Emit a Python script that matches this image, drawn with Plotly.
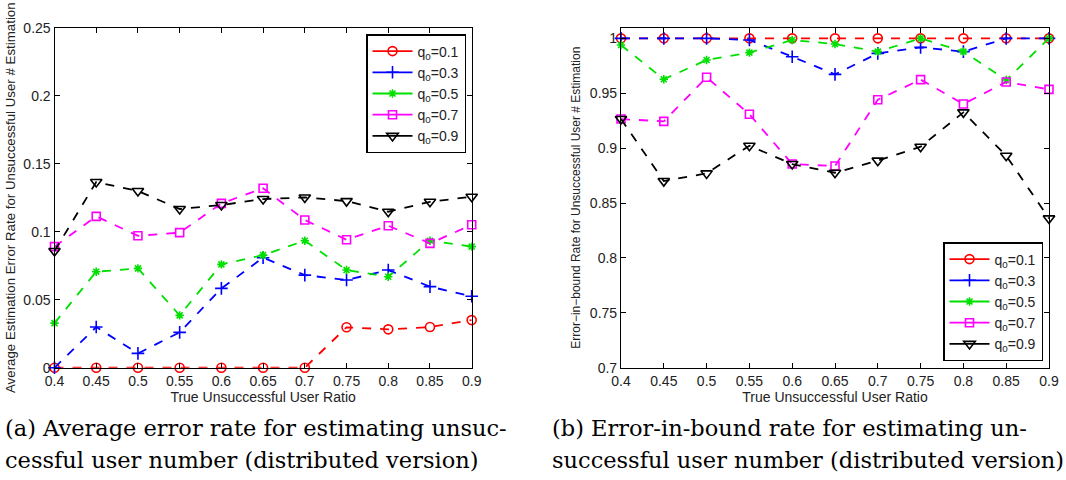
import plotly.graph_objects as go

# True unsuccessful user ratio (x values shared by both panels)
ratios = [0.4, 0.45, 0.5, 0.55, 0.6, 0.65, 0.7, 0.75, 0.8, 0.85, 0.9]
q0_labels = ["0.1", "0.3", "0.5", "0.7", "0.9"]

# (a) average estimation error rate
err_q01 = [0, 0, 0, 0, 0, 0, 0, 0.0297, 0.0282, 0.0299, 0.035]
err_q03 = [0, 0.0299, 0.0105, 0.026, 0.0583, 0.0809, 0.0681, 0.0645, 0.0718, 0.0596, 0.0525]
err_q05 = [0.0328, 0.0706, 0.073, 0.0385, 0.076, 0.0828, 0.0934, 0.0718, 0.0669, 0.0934, 0.089]
err_q07 = [0.089, 0.1113, 0.097, 0.0993, 0.1208, 0.1319, 0.1086, 0.0941, 0.1044, 0.0914, 0.1051]
err_q09 = [0.0858, 0.1365, 0.1299, 0.1167, 0.1196, 0.124, 0.1252, 0.1225, 0.1147, 0.122, 0.1257]

# (b) error-in-bound rate
inb_q01 = [1, 1, 1, 1, 1, 1, 1, 1, 1, 1, 1]
inb_q03 = [1, 1, 1, 0.9985, 0.9833, 0.9672, 0.9863, 0.9918, 0.9879, 1, 1]
inb_q05 = [0.9939, 0.9627, 0.9803, 0.987, 0.9985, 0.9948, 0.9879, 1.0, 0.9879, 0.962, 1.0]
inb_q07 = [0.9265, 0.9244, 0.9645, 0.9308, 0.8855, 0.8837, 0.9441, 0.9624, 0.9402, 0.9602, 0.9535]
inb_q09 = [0.9265, 0.87, 0.877, 0.9022, 0.8855, 0.8776, 0.8886, 0.9013, 0.9326, 0.8931, 0.836]

x_ticktext = ["0.4", "0.45", "0.5", "0.55", "0.6", "0.65", "0.7", "0.75", "0.8", "0.85", "0.9"]
ya_ticks = [0, 0.05, 0.1, 0.15, 0.2, 0.25]
ya_ticktext = ["0", "0.05", "0.1", "0.15", "0.2", "0.25"]
yb_ticks = [0.7, 0.75, 0.8, 0.85, 0.9, 0.95, 1.0]
yb_ticktext = ["0.7", "0.75", "0.8", "0.85", "0.9", "0.95", "1"]

colors = ["#ff0000", "#0000ff", "#00e000", "#ff00ff", "#000000"]
symbols = ["circle-open", "cross-thin-open", "asterisk-open", "square-open", "triangle-down-open"]
sizes = [9, 9, 7, 8, 10]

W, H = 1066, 480
def px_x(a, b):
    return [a / W, b / W]
def px_y(top, bottom):
    return [1 - bottom / H, 1 - top / H]

fig = go.Figure()

panels = [
    ([err_q01, err_q03, err_q05, err_q07, err_q09], "x", "y", "legend"),
    ([inb_q01, inb_q03, inb_q05, inb_q07, inb_q09], "x2", "y2", "legend2"),
]
for series, xa, ya, lg in panels:
    for i, ys in enumerate(series):
        mk = dict(symbol=symbols[i], size=sizes[i], color=colors[i],
                  line=dict(color=colors[i], width=1.6))
        # dashed data line
        fig.add_trace(go.Scatter(
            x=ratios, y=ys, xaxis=xa, yaxis=ya, showlegend=False,
            mode="lines+markers",
            line=dict(color=colors[i], width=1.8, dash="dash"),
            marker=mk, cliponaxis=False,
        ))
        # legend key drawn with a solid line
        fig.add_trace(go.Scatter(
            x=[None], y=[None], xaxis=xa, yaxis=ya, legend=lg,
            mode="lines+markers", name="q<sub>0</sub>=" + q0_labels[i],
            line=dict(color=colors[i], width=1.8), marker=mk,
        ))

tickfont = dict(family="Liberation Sans, Arial, sans-serif", size=14, color="#222222")
axis_common = dict(
    showline=True, linecolor="black", linewidth=1.2, mirror="ticks",
    ticks="inside", ticklen=5, tickcolor="black", tickwidth=1,
    showgrid=False, zeroline=False, tickfont=tickfont, automargin=False,
)

fig.update_layout(
    template="none",
    width=W, height=H,
    margin=dict(l=0, r=0, t=0, b=0, pad=0, autoexpand=False),
    paper_bgcolor="white", plot_bgcolor="white",
    font=dict(family="Liberation Sans, Arial, sans-serif", color="#222222"),
    xaxis=dict(domain=px_x(54.5, 471.7), range=[0.4, 0.9], tickvals=ratios, ticktext=x_ticktext,
               anchor="y",
               title=dict(text="True Unsuccessful User Ratio", font=dict(size=14), standoff=0),
               **axis_common),
    yaxis=dict(domain=px_y(27.7, 367.7), range=[0, 0.25], tickvals=ya_ticks, ticktext=ya_ticktext,
               anchor="x",
               title=dict(text="Average Estimation Error Rate for Unsuccessful User # Estimation",
                          font=dict(size=13.3), standoff=4),
               **axis_common),
    xaxis2=dict(domain=px_x(621, 1049), range=[0.4, 0.9], tickvals=ratios, ticktext=x_ticktext,
                anchor="y2",
                title=dict(text="True Unsuccessful User Ratio", font=dict(size=14), standoff=0),
                **axis_common),
    yaxis2=dict(domain=px_y(27.7, 367.7), range=[0.7, 1.0097], tickvals=yb_ticks, ticktext=yb_ticktext,
                anchor="x2",
                title=dict(text="Error\u2212in\u2212bound Rate for Unsuccessful User # Estimation",
                           font=dict(size=12), standoff=6),
                **axis_common),
    legend=dict(x=466 / W, y=1 - 34 / H, xanchor="right", yanchor="top",
                bgcolor="white", bordercolor="black", borderwidth=1.5,
                font=dict(size=14, color="#222222"), tracegroupgap=0, itemwidth=40),
    legend2=dict(x=1043 / W, y=1 - 361 / H, xanchor="right", yanchor="bottom",
                 bgcolor="white", bordercolor="black", borderwidth=1.5,
                 font=dict(size=14, color="#222222"), tracegroupgap=0, itemwidth=40),
)

cap_font = dict(family="DejaVu Serif, Liberation Serif, serif", size=22.5, color="black")
captions = [
    (3, 428, "(a) Average error rate for estimating unsuc-"),
    (3, 460, "cessful user number (distributed version)"),
    (550, 428, "(b) Error-in-bound rate for estimating un-"),
    (550, 460, "successful user number (distributed version)"),
]
for xp, yp, txt in captions:
    fig.add_annotation(x=xp / W, y=1 - yp / H, xref="paper", yref="paper",
                       xanchor="left", yanchor="middle", showarrow=False,
                       text=txt, font=cap_font)

fig.write_html("out.html")
